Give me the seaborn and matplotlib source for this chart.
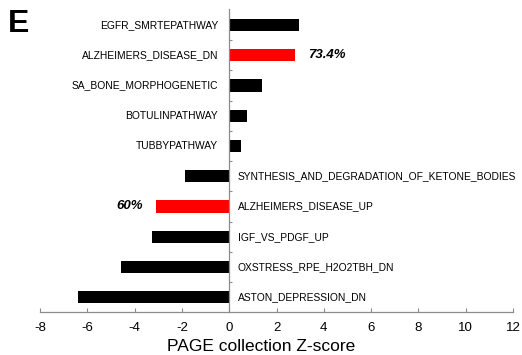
import matplotlib
matplotlib.use("Agg")
import matplotlib.pyplot as plt
import seaborn as sns
import pandas as pd

pathways = [
    "EGFR_SMRTEPATHWAY",
    "ALZHEIMERS_DISEASE_DN",
    "SA_BONE_MORPHOGENETIC",
    "BOTULINPATHWAY",
    "TUBBYPATHWAY",
    "SYNTHESIS_AND_DEGRADATION_OF_KETONE_BODIES",
    "ALZHEIMERS_DISEASE_UP",
    "IGF_VS_PDGF_UP",
    "OXSTRESS_RPE_H2O2TBH_DN",
    "ASTON_DEPRESSION_DN",
]
zscores = [2.95, 2.8, 1.38, 0.77, 0.52, -1.86, -3.11, -3.26, -4.57, -6.38]
highlighted = ["ALZHEIMERS_DISEASE_DN", "ALZHEIMERS_DISEASE_UP"]
overlap_labels = {"ALZHEIMERS_DISEASE_DN": "73.4%", "ALZHEIMERS_DISEASE_UP": "60%"}
x_ticks = [-8, -6, -4, -2, 0, 2, 4, 6, 8, 10, 12]

df = pd.DataFrame({"pathway": pathways, "z": zscores})
palette = {p: ("#ff0000" if p in highlighted else "#000000") for p in pathways}

sns.set_style("white")
plt.rcParams["font.family"] = ["Liberation Sans", "DejaVu Sans"]
plt.rcParams["text.color"] = "black"
plt.rcParams["axes.labelcolor"] = "black"
plt.rcParams["xtick.color"] = "black"
plt.rcParams["ytick.color"] = "black"

fig = plt.figure(figsize=(5.22, 3.55), dpi=100)
ax = fig.add_axes([40 / 522, 43 / 355, 473 / 522, 303 / 355])

sns.barplot(data=df, x="z", y="pathway", hue="pathway", palette=palette,
            legend=False, width=0.4, orient="h", saturation=1, linewidth=0, ax=ax)

ax.set_xlim(-8, 12)
ax.set_ylim(9.49, -0.53)
ax.set_xticks(x_ticks)
ax.set_xticklabels([str(t) for t in x_ticks], fontsize=9.5)
ax.set_xlabel("PAGE collection Z-score", fontsize=12.5)
ax.xaxis.set_label_coords((261 - 40) / 473, -0.09)
ax.set_ylabel("")

# zero line acts as the category axis; names sit on the side opposite the bar
ax.spines["left"].set_position(("data", 0))
for s in ("top", "right"):
    ax.spines[s].set_visible(False)
for s in ("left", "bottom"):
    ax.spines[s].set_color("#8c8c8c")
    ax.spines[s].set_linewidth(0.9)

ax.set_yticks([i + 0.5 for i in range(len(pathways) - 1)])
ax.set_yticklabels([])
ax.tick_params(axis="y", direction="in", length=2, color="#8c8c8c", left=True)
ax.tick_params(axis="x", direction="in", length=3, color="#8c8c8c", bottom=True, pad=7)

for i, (name, z) in enumerate(zip(pathways, zscores)):
    if z >= 0:
        ax.annotate(name, xy=(0, i), xytext=(-8, 0), textcoords="offset points",
                    ha="right", va="center", fontsize=7.4)
    else:
        ax.annotate(name, xy=(0, i), xytext=(6, 0), textcoords="offset points",
                    ha="left", va="center", fontsize=7.4)

for name, text in overlap_labels.items():
    i = pathways.index(name)
    z = zscores[i]
    if z >= 0:
        ax.annotate(text, xy=(z, i), xytext=(9, 0), textcoords="offset points",
                    ha="left", va="center", fontsize=9.5, fontweight="bold", style="italic")
    else:
        ax.annotate(text, xy=(z, i), xytext=(-9, 0), textcoords="offset points",
                    ha="right", va="center", fontsize=9.5, fontweight="bold", style="italic")

fig.text(8 / 522, 1 - 32 / 355, "E", fontsize=23, fontweight="bold", ha="left", va="baseline")

fig.savefig("out.png", dpi=100, facecolor="white")
